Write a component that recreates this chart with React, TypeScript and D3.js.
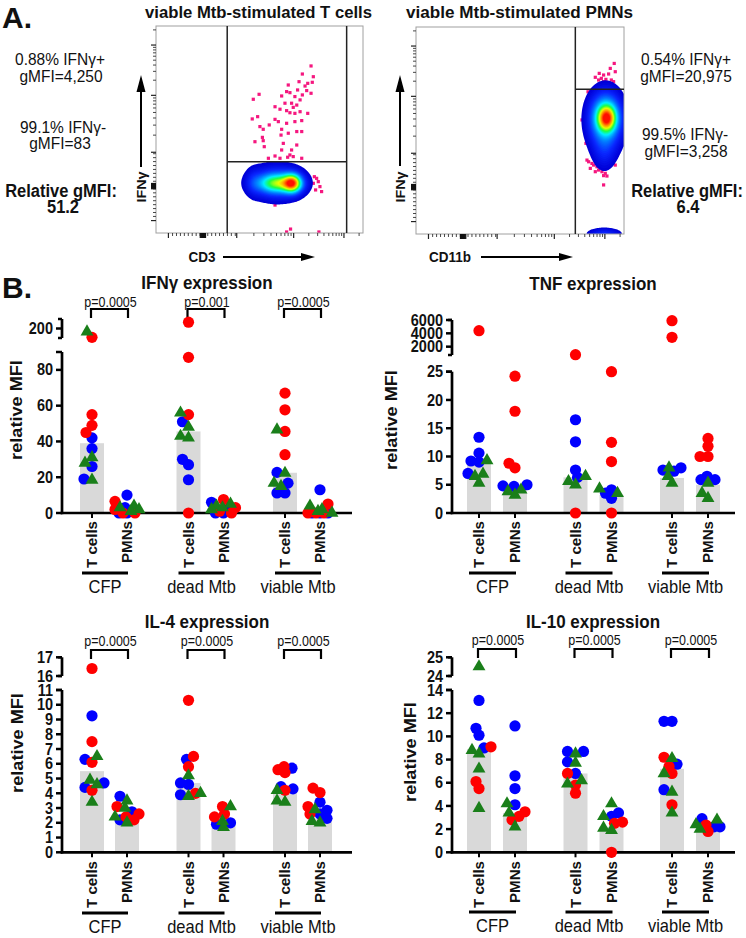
import React, { useMemo } from "react";
import * as d3 from "d3";

const FONT = "'Liberation Sans', Arial, Helvetica, sans-serif";
const RED = "#ff0000";
const BLUE = "#0000ff";
const GREEN = "#1a7f1a";
const BAR = "#d9d9d9";
const PINK = "#f5177f";

// ---------------- Panel B data ----------------
const groups = ["CFP", "dead Mtb", "viable Mtb"];
const cellTypes = ["T cells", "PMNs"];
// columns: CFP T, CFP PMN, dead T, dead PMN, viable T, viable PMN

const ifngRed = [[186, 55, 49, 45], [6.5, 2, 0, 0], [210, 87, 55, 0], [7.5, 3, 1, 0], [67, 57.7, 45.6, 32.6], [5, 0, 0, 0]];
const ifngBlue = [[42, 36, 26, 19], [10, 3, 0, 0], [51, 30, 27, 18.6], [6, 2, 0, 0], [22.7, 16.7, 11.2, 11.2], [13, 0, 0, 0]];
const ifngGreen = [[195, 31, 28, 18.5], [4, 3, 2, 1], [56, 48, 43, 42], [5, 4, 3, 2], [46.5, 22.3, 16.7, 15], [4, 2, 1, 0]];
const ifngBars = [39, 2.5, 45.6, 2.5, 22.5, 1];
const ifngP = ["p=0.0005", "p=0.001", "p=0.0005"];
const ifngLowTicks = [0, 20, 40, 60, 80];
const ifngHighTicks = [200];

const tnfRed = [[4400], [24.2, 18, 8.8, 8], [800, 0], [25, 12.5, 9.1, 0], [5900, 3400], [13.2, 11.8, 10, 10]];
const tnfBlue = [[13.4, 10.6, 9.2, 9.0, 7.0], [5, 4.8, 4.7], [16.5, 12.6, 7.6, 6.3], [4.1, 3.5, 2.6], [8, 7.6, 7.4], [6.5, 5.9, 5.9]];
const tnfGreen = [[9.3, 6.9, 6.5, 5.3], [4.1, 3.8, 3.2], [6.5, 5.6, 5], [4.3, 3.5], [8, 6.5, 5.3], [5.3, 3.5, 2.6]];
const tnfBars = [9.1, 4.7, 6.3, 3.2, 6.2, 5];
const tnfP: string[] = [];
const tnfLowTicks = [0, 5, 10, 15, 20, 25];
const tnfHighTicks = [2000, 4000, 6000];

const il4Red = [[16.4, 7.5, 6.1, 4.2], [3.1, 2.6, 2.4, 2.2], [10.3, 6.5, 5.8, 4.0], [3.1, 2.6, 2.4], [5.8, 5.6, 5.4, 4.2], [4.35, 4.05, 3.1, 2.6]];
const il4Blue = [[9.25, 6.3, 4.7, 4.4], [3.8, 2.75, 2.2], [6.3, 4.7, 4.6, 3.9], [2.0, 1.9], [5.7, 4.45, 4.3], [3.4, 2.85, 2.6, 2.3]];
const il4Green = [[6.5, 4.9, 4.6, 3.4], [3.5, 3.0, 2.4, 2.0], [5.2, 4.0, 3.8], [3.1, 2.1, 1.7], [4.2, 3.5, 3.4], [2.9, 2.1, 2.0]];
const il4Bars = [5.5, 2.4, 4.7, 2.1, 4.1, 2.3];
const il4P = ["p=0.0005", "p=0.0005", "p=0.0005"];
const il4LowTicks = [0, 1, 2, 3, 4, 5, 6, 7, 8, 9, 10, 11];
const il4HighTicks = [16, 17];

const il10Red = [[9.1, 6.1, 5.5], [3.5, 3.1, 2.8], [6.8, 5.8, 5.1], [2.6, 2.5, 0], [8.2, 7.4, 6.8, 4.1], [2.35, 1.8]];
const il10Blue = [[13.1, 10.7, 10.1, 9.0], [10.9, 6.6, 5.5, 4.1], [8.7, 8.7, 7.8, 6.8], [3.4, 3.1], [11.3, 11.3, 7.6, 5.4], [2.2, 2.2, 2.9]];
const il10Green = [[24.5, 8.8, 8.5, 7.2, 3.8], [4.2, 3.4, 2.2], [8.5, 7.7, 6.2, 5.9], [4.2, 3.1, 2.1, 1.9], [8.1, 6.8, 5.2, 3.4], [2.8, 2.4, 2.0]];
const il10Bars = [8.9, 3.4, 6.8, 2.2, 7.2, 2.0];
const il10P = ["p=0.0005", "p=0.0005", "p=0.0005"];
const il10LowTicks = [0, 2, 4, 6, 8, 10, 12, 14];
const il10HighTicks = [24, 25];

// ---------------- Panel A data (channel units 0..1000) ----------------
const flowMajorTicks = [60, 227, 390, 665, 908];
const tcellDots = [[749, 807], [707, 768], [760, 755], [691, 731], [733, 723], [639, 715], [755, 728], [720, 710], [684, 691], [728, 688], [631, 683], [647, 678], [749, 675], [707, 667], [498, 670], [470, 646], [607, 662], [671, 659], [696, 643], [623, 627], [655, 627], [663, 607], [575, 610], [599, 598], [680, 618], [631, 591], [647, 581], [671, 578], [696, 586], [733, 578], [491, 562], [465, 551], [575, 549], [591, 538], [547, 522], [518, 501], [502, 514], [607, 501], [671, 538], [704, 543], [631, 530], [704, 490], [680, 490], [514, 462], [518, 446], [478, 441], [523, 417], [604, 473], [639, 482], [615, 433], [680, 425], [655, 401], [607, 401], [543, 361], [575, 372], [599, 361], [636, 366], [663, 369], [704, 361], [647, 377], [765, 272], [776, 264], [784, 248], [760, 240], [792, 224], [771, 208], [800, 200], [575, 135], [671, 159], [631, 5], [650, 19], [787, 5]];
const pmnDots = [[953, 824], [934, 800], [958, 784], [881, 776], [902, 768], [926, 773], [862, 757], [891, 752], [913, 747], [939, 744], [878, 744], [902, 736], [926, 731], [950, 736], [806, 567], [798, 551], [817, 438], [822, 357], [830, 349], [846, 341], [854, 333], [870, 325], [878, 309], [894, 301], [910, 293], [902, 282], [918, 280], [862, 301], [838, 317], [966, 438], [958, 333], [902, 237], [838, 663], [827, 687]];
const tcellDensity = [
  { x: 660, y: 240, sx: 30, sy: 30, w: 0.55 },
  { x: 585, y: 240, sx: 62, sy: 30, w: 0.38 },
  { x: 585, y: 243, sx: 92, sy: 60, w: 0.2 },
  { x: 470, y: 245, sx: 25, sy: 48, w: 0.05 },
];
const pmnDensity = [
  { x: 910, y: 540, sx: 62, sy: 110, w: 0.16 },
  { x: 905, y: 400, sx: 38, sy: 70, w: 0.08 },
  { x: 917, y: 560, sx: 30, sy: 42, w: 0.5 },
  { x: 912, y: 565, sx: 50, sy: 75, w: 0.3 },
  { x: 905, y: 0, sx: 55, sy: 20, w: 0.16 },
];

// ---------------- helpers ----------------
function T({ x, y, children, size = 14, weight = "normal", anchor = "middle", sy = 1.15, rot = 0, len, fill = "#111" }: any) {
  return (
    <text
      transform={`translate(${x},${y}) scale(1,${sy}) rotate(${rot})`}
      fontSize={size}
      fontWeight={weight}
      textAnchor={anchor}
      fill={fill}
      textLength={len}
      lengthAdjust={len ? "spacingAndGlyphs" : undefined}
    >
      {children}
    </text>
  );
}

function swarm(ys: number[], minD: number, maxOff: number) {
  const placed: { off: number; y: number }[] = [];
  const order = ys.map((_, i) => i).sort((a, b) => ys[b] - ys[a]);
  const offs = new Array(ys.length).fill(0);
  for (const i of order) {
    const y = ys[i];
    let bestOff = 0;
    let bestD = -1;
    for (let k = 0; k <= 2 * maxOff; k++) {
      const off = k === 0 ? 0 : (k % 2 ? -1 : 1) * Math.ceil(k / 2);
      let md = Infinity;
      for (const p of placed) md = Math.min(md, Math.hypot(off - p.off, y - p.y));
      if (md >= minD) { bestOff = off; bestD = md; break; }
      if (md > bestD) { bestD = md; bestOff = off; }
    }
    offs[i] = bestOff;
    placed.push({ off: bestOff, y });
  }
  return offs;
}

const triPath = d3.symbol().type(d3.symbolTriangle).size(72)() as string;

function Chart({ cfg, red, blue, green, bars, pvals, lowTicks, highTicks }: any) {
  const low = d3.scaleLinear().domain([0, cfg.lowMax]).range([cfg.y0, cfg.lowTop]);
  const high = d3.scaleLinear().domain(cfg.highDomain).range(cfg.highRange);
  const yv = (v: number) => (v > cfg.lowMax ? high(v) : low(v));
  const gx = d3.scalePoint<string>().domain(groups).range([cfg.g0, cfg.g1]);
  const colX = (ci: number) => (gx(groups[Math.floor(ci / 2)]) as number) + (ci % 2 ? cfg.dx : -cfg.dx);
  const cols = d3.range(6);

  const markers: any[] = [];
  cols.forEach((ci) => {
    const items = [
      ...blue[ci].map((v: number) => ({ v, c: BLUE, s: "c" })),
      ...red[ci].map((v: number) => ({ v, c: RED, s: "c" })),
      ...green[ci].map((v: number) => ({ v, c: GREEN, s: "t" })),
    ];
    const ys = items.map((d) => yv(d.v));
    const offs = swarm(ys, 7.5, 12);
    items.forEach((d, i) => markers.push({ ...d, x: colX(ci) + offs[i], y: ys[i], key: `${ci}-${i}` }));
  });

  const hd = cfg.highDomain;
  return (
    <g>
      {cols.map((ci) => (
        <rect key={"b" + ci} x={colX(ci) - 12} width={24} y={yv(bars[ci])} height={cfg.y0 - yv(bars[ci])} fill={BAR} />
      ))}
      <line x1={cfg.axisX} x2={cfg.axisX} y1={cfg.y0 + 1.2} y2={low(cfg.lowMax)} stroke="#000" strokeWidth={2.7} />
      <line x1={cfg.axisX - 6} x2={cfg.axisX} y1={low(cfg.lowMax)} y2={low(cfg.lowMax)} stroke="#000" strokeWidth={2.5} />
      {lowTicks.map((t: number) => (
        <g key={"lt" + t}>
          <line x1={cfg.axisX - 6} x2={cfg.axisX} y1={low(t)} y2={low(t)} stroke="#000" strokeWidth={2.5} />
          <T x={cfg.axisX - 9} y={low(t) + 5.6} size={14.5} weight="bold" anchor="end" sy={1.08}>{t}</T>
        </g>
      ))}
      <line x1={cfg.axisX} x2={cfg.axisX} y1={high(hd[0])} y2={high(hd[1])} stroke="#000" strokeWidth={2.7} />
      <line x1={cfg.axisX - 4} x2={cfg.axisX} y1={high(hd[0])} y2={high(hd[0])} stroke="#000" strokeWidth={2.5} />
      <line x1={cfg.axisX - 4} x2={cfg.axisX} y1={high(hd[1])} y2={high(hd[1])} stroke="#000" strokeWidth={2.5} />
      {highTicks.map((t: number) => (
        <g key={"ht" + t}>
          <line x1={cfg.axisX - 6} x2={cfg.axisX} y1={high(t)} y2={high(t)} stroke="#000" strokeWidth={2.5} />
          <T x={cfg.axisX - 9} y={high(t) + 5.6} size={14.5} weight="bold" anchor="end" sy={1.08}>{t}</T>
        </g>
      ))}
      <line x1={cfg.axisX - 1.3} x2={cfg.right} y1={cfg.y0} y2={cfg.y0} stroke="#000" strokeWidth={2.7} />
      {cols.map((ci) => (
        <line key={"xt" + ci} x1={colX(ci)} x2={colX(ci)} y1={cfg.y0} y2={cfg.y0 + 5} stroke="#000" strokeWidth={2} />
      ))}
      {cols.map((ci) => (
        <T key={"cl" + ci} x={colX(ci) + 5.2} y={cfg.catY} size={14} weight="bold" anchor="end" rot={-90} sy={1.08}>
          {cellTypes[ci % 2]}
        </T>
      ))}
      {groups.map((g, gi) => {
        const x1 = colX(gi * 2) - 10;
        const x2 = colX(gi * 2 + 1) + 1;
        return (
          <g key={"g" + g}>
            <line x1={x1} x2={x2} y1={cfg.ulY} y2={cfg.ulY} stroke="#000" strokeWidth={3} />
            <T x={(x1 + x2) / 2} y={cfg.glY} size={16.5} sy={1.15}>{g}</T>
          </g>
        );
      })}
      {pvals.map((p: string, gi: number) => {
        const x1 = colX(gi * 2) - 1;
        const x2 = colX(gi * 2 + 1) + 1;
        return (
          <g key={"p" + gi}>
            <path d={`M${x1},${cfg.brY + 9}V${cfg.brY}H${x2}V${cfg.brY + 9}`} fill="none" stroke="#000" strokeWidth={2.2} />
            <T x={(x1 + x2) / 2 + 1} y={cfg.pY} size={12.5} sy={1.1}>{p}</T>
          </g>
        );
      })}
      <T x={cfg.titleX} y={cfg.titleY} size={17} weight="bold" sy={1.05}>{cfg.title}</T>
      <T x={cfg.ylX + 6} y={cfg.ylY} size={16.5} weight="bold" rot={-90} sy={1.1}>relative MFI</T>
      {markers.map((m) =>
        m.s === "c" ? (
          <circle key={m.key} cx={m.x} cy={m.y} r={5.6} fill={m.c} />
        ) : (
          <path key={m.key} d={triPath} transform={`translate(${m.x},${m.y})`} fill={m.c} />
        )
      )}
    </g>
  );
}

const jet = d3
  .scaleLinear<string>()
  .domain([0.05, 0.16, 0.3, 0.42, 0.55, 0.68, 0.8, 0.92])
  .range(["#0000d8", "#0a28ff", "#0090ff", "#00f0ff", "#20ff40", "#e8ff00", "#ff9000", "#ff1000"])
  .clamp(true);

function FlowPlot({ frame, comps, dots, gates, id }: any) {
  const n = 200;
  const xs = d3.scaleLinear().domain([0, 1000]).range([frame.x, frame.x + frame.w]);
  const ys = d3.scaleLinear().domain([0, 1000]).range([frame.y + frame.h, frame.y]);
  const contours = useMemo(() => {
    const vals = new Float64Array(n * n);
    for (let j = 0; j < n; j++) {
      const cy = 1000 - ((j + 0.5) * 1000) / n;
      for (let i = 0; i < n; i++) {
        const cx = ((i + 0.5) * 1000) / n;
        let s = 0;
        for (const c of comps) {
          const dx = (cx - c.x) / c.sx;
          const dy = (cy - c.y) / c.sy;
          s += c.w * Math.exp(-0.5 * (dx * dx + dy * dy));
        }
        vals[j * n + i] = s;
      }
    }
    const mx = d3.max(vals) as number;
    const levels = d3.range(0.05, 0.985, 0.015);
    const cs = d3.contours().size([n, n]).thresholds(levels.map((l) => l * mx))(Array.from(vals));
    return cs.map((c, i) => ({ d: d3.geoPath()(c as any), color: jet(levels[i]) }));
  }, [comps]);

  const minor: number[] = [];
  d3.range(80, 215, 19).forEach((v) => minor.push(v));
  d3.range(250, 385, 19).forEach((v) => minor.push(v));
  [2, 3, 4, 5, 6, 7, 8, 9].forEach((k) => {
    minor.push(390 + Math.log10(k) * 275);
    minor.push(665 + Math.log10(k) * 243);
    const v = 908 + Math.log10(k) * 243;
    if (v < 1000) minor.push(v);
  });
  const zero = [214, 219, 224, 229, 234, 239];

  return (
    <g>
      <defs>
        <clipPath id={id}>
          <rect x={frame.x} y={frame.y} width={frame.w} height={frame.h} />
        </clipPath>
      </defs>
      <g clipPath={`url(#${id})`}>
        {dots.map((d: number[], i: number) => (
          <rect key={i} x={xs(d[0]) - 1.6} y={ys(d[1]) - 1.6} width={3.2} height={3.2} fill={PINK} />
        ))}
        <g transform={`translate(${frame.x},${frame.y}) scale(${frame.w / n},${frame.h / n})`}>
          {contours.map((c, i) => (
            <path key={i} d={c.d as string} fill={c.color} />
          ))}
        </g>
      </g>
      <rect x={frame.x} y={frame.y} width={frame.w} height={frame.h} fill="none" stroke="#a0a0a0" strokeWidth={1} />
      {gates.v.map((g: number) => (
        <line key={"gv" + g} x1={xs(g)} x2={xs(g)} y1={ys(0)} y2={ys(1000)} stroke="#222" strokeWidth={1.5} />
      ))}
      <line x1={xs(gates.h[1])} x2={xs(gates.h[2])} y1={ys(gates.h[0])} y2={ys(gates.h[0])} stroke="#222" strokeWidth={1.5} />
      {flowMajorTicks.map((t) => (
        <g key={"M" + t}>
          <line x1={xs(t)} x2={xs(t)} y1={frame.y + frame.h} y2={frame.y + frame.h + 5} stroke="#222" strokeWidth={1.2} />
          <line x1={frame.x - 5} x2={frame.x} y1={ys(t)} y2={ys(t)} stroke="#222" strokeWidth={1.2} />
        </g>
      ))}
      {minor.map((t, i) => (
        <g key={"m" + i}>
          <line x1={xs(t)} x2={xs(t)} y1={frame.y + frame.h} y2={frame.y + frame.h + 3} stroke="#333" strokeWidth={0.9} />
          <line x1={frame.x - 3} x2={frame.x} y1={ys(t)} y2={ys(t)} stroke="#333" strokeWidth={0.9} />
        </g>
      ))}
      {zero.map((t) => (
        <g key={"z" + t}>
          <line x1={xs(t)} x2={xs(t)} y1={frame.y + frame.h} y2={frame.y + frame.h + 5} stroke="#111" strokeWidth={1.3} />
          <line x1={frame.x - 5} x2={frame.x} y1={ys(t)} y2={ys(t)} stroke="#111" strokeWidth={1.3} />
        </g>
      ))}
    </g>
  );
}

function VArrow({ x, y1, y2 }: any) {
  return (
    <g>
      <line x1={x} x2={x} y1={y1} y2={y2 + 14} stroke="#000" strokeWidth={2} />
      <path d={`M${x},${y2}L${x - 4.5},${y2 + 17}L${x + 4.5},${y2 + 17}Z`} fill="#000" />
    </g>
  );
}
function HArrow({ x1, x2, y }: any) {
  return (
    <g>
      <line x1={x1} x2={x2 - 12} y1={y} y2={y} stroke="#000" strokeWidth={2} />
      <path d={`M${x2},${y}L${x2 - 14},${y - 4}L${x2 - 14},${y + 4}Z`} fill="#000" />
    </g>
  );
}

const cfgIFNG = { axisX: 62, right: 352, y0: 513, lowMax: 90, lowTop: 352, highDomain: [185, 215], highRange: [338, 319], g0: 109.5, g1: 302.5, dx: 17.5, title: "IFNγ expression", titleX: 207, titleY: 289, pY: 307, brY: 309, catY: 521, ulY: 573, glY: 593, ylX: 15.5, ylY: 410 };
const cfgTNF = { axisX: 452, right: 735, y0: 513, lowMax: 25, lowTop: 371.7, highDomain: [750, 6000], highRange: [355, 320], g0: 497, g1: 690, dx: 18, title: "TNF expression", titleX: 593, titleY: 290, pY: 0, brY: 0, catY: 521, ulY: 573, glY: 593, ylX: 391, ylY: 420 };
const cfgIL4 = { axisX: 62, right: 352, y0: 852.3, lowMax: 11, lowTop: 690, highDomain: [16, 17], highRange: [676, 657.3], g0: 109.5, g1: 302.5, dx: 17.5, title: "IL-4 expression", titleX: 207, titleY: 628, pY: 646, brY: 650, catY: 861, ulY: 913, glY: 933, ylX: 17, ylY: 743 };
const cfgIL10 = { axisX: 452, right: 735, y0: 852.3, lowMax: 14, lowTop: 690, highDomain: [24, 25], highRange: [676, 657.3], g0: 497, g1: 690, dx: 18, title: "IL-10 expression", titleX: 593, titleY: 628, pY: 645, brY: 649, catY: 861, ulY: 912, glY: 932, ylX: 410, ylY: 752 };

export default function App() {
  return (
    <svg width={746} height={938} style={{ position: "absolute", left: 0, top: 0, background: "#fff" }} fontFamily={FONT}>
      <rect width={746} height={938} fill="#fff" />
      {/* Panel A */}
      <T x={2} y={28} size={30} weight="bold" anchor="start" sy={1}>A.</T>
      <T x={258.5} y={18} size={15} weight="bold" sy={1.05} len={227}>viable Mtb-stimulated T cells</T>
      <T x={519.5} y={18} size={15} weight="bold" sy={1.05} len={227}>viable Mtb-stimulated PMNs</T>

      <T x={60} y={65} size={15.5} sy={1.1}>0.88% IFNγ+</T>
      <T x={61} y={82} size={15.5} sy={1.1}>gMFI=4,250</T>
      <T x={63} y={133} size={15.5} sy={1.1}>99.1% IFNγ-</T>
      <T x={60} y={149} size={15.5} sy={1.1}>gMFI=83</T>
      <T x={61} y={197} size={16.5} weight="bold" sy={1.12}>Relative gMFI:</T>
      <T x={63} y={213} size={16.5} weight="bold" sy={1.12}>51.2</T>

      <T x={686} y={65} size={15.5} sy={1.1}>0.54% IFNγ+</T>
      <T x={686} y={82} size={15.5} sy={1.1}>gMFI=20,975</T>
      <T x={685} y={140} size={15.5} sy={1.1}>99.5% IFNγ-</T>
      <T x={686} y={157} size={15.5} sy={1.1}>gMFI=3,258</T>
      <T x={687} y={197} size={16.5} weight="bold" sy={1.12}>Relative gMFI:</T>
      <T x={688} y={213} size={16.5} weight="bold" sy={1.12}>6.4</T>

      <FlowPlot id="clipT" frame={{ x: 156, y: 26, w: 207, h: 207 }} comps={tcellDensity} dots={tcellDots} gates={{ v: [344, 921], h: [344, 344, 921] }} />
      <FlowPlot id="clipP" frame={{ x: 416, y: 27, w: 208, h: 207 }} comps={pmnDensity} dots={pmnDots} gates={{ v: [766], h: [699, 766, 1000] }} />

      <VArrow x={141} y1={167} y2={75} />
      <T x={141 + 4.5} y={187} size={12.5} weight="bold" rot={-90}>IFNγ</T>
      <VArrow x={400} y1={166} y2={75} />
      <T x={400 + 4.5} y={187} size={12.5} weight="bold" rot={-90}>IFNγ</T>
      <T x={202} y={262} size={13.5} weight="bold">CD3</T>
      <HArrow x1={223} x2={315} y={257} />
      <T x={450} y={262} size={13.5} weight="bold">CD11b</T>
      <HArrow x1={481} x2={573} y={257} />

      {/* Panel B */}
      <T x={2} y={298} size={30} weight="bold" anchor="start" sy={1}>B.</T>
      <Chart cfg={cfgIFNG} red={ifngRed} blue={ifngBlue} green={ifngGreen} bars={ifngBars} pvals={ifngP} lowTicks={ifngLowTicks} highTicks={ifngHighTicks} />
      <Chart cfg={cfgTNF} red={tnfRed} blue={tnfBlue} green={tnfGreen} bars={tnfBars} pvals={tnfP} lowTicks={tnfLowTicks} highTicks={tnfHighTicks} />
      <Chart cfg={cfgIL4} red={il4Red} blue={il4Blue} green={il4Green} bars={il4Bars} pvals={il4P} lowTicks={il4LowTicks} highTicks={il4HighTicks} />
      <Chart cfg={cfgIL10} red={il10Red} blue={il10Blue} green={il10Green} bars={il10Bars} pvals={il10P} lowTicks={il10LowTicks} highTicks={il10HighTicks} />
    </svg>
  );
}
